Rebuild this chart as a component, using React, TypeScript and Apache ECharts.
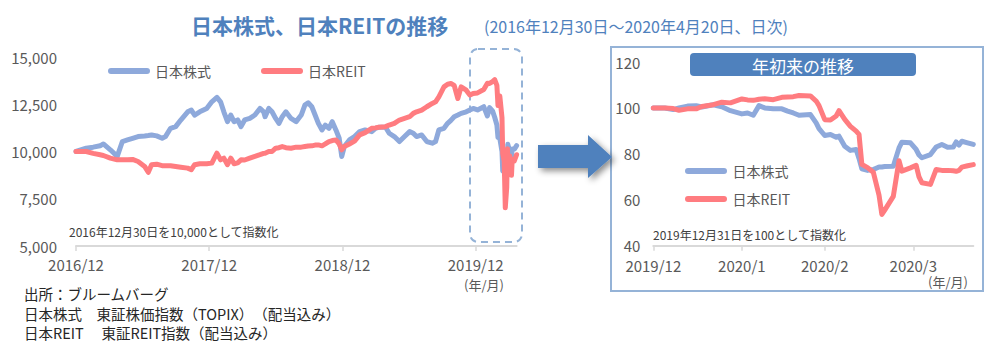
import React, { useEffect, useRef } from 'react';
import * as echarts from 'echarts';

const FONT = '"Noto Sans CJK JP", "Noto Sans", sans-serif';
const BLUE = '#8EA9DB';
const RED = '#FF7C80';
const AXIS_GREY = '#D9D9D9';
const LABEL_GREY = '#595959';

const SERIES_NAMES = ['日本株式', '日本REIT'];

// Long-term chart: days since 2016/12/30
const longDays = [0, 28, 47, 66, 75, 94, 113, 127, 141, 155, 170, 188, 198, 207, 221, 236, 245, 259, 273, 287, 306, 316, 325, 339, 358, 372, 386, 396, 405, 415, 424, 433, 443, 452, 462, 476, 490, 504, 514, 518, 528, 537, 547, 556, 565, 575, 589, 603, 617, 627, 636, 646, 655, 664, 674, 683, 693, 702, 712, 721, 728, 735, 749, 763, 777, 792, 810, 820, 829, 848, 858, 872, 886, 900, 914, 924, 933, 947, 961, 976, 985, 994, 1008, 1018, 1027, 1036, 1046, 1055, 1069, 1079, 1088, 1100, 1117, 1127, 1133, 1141, 1147, 1153, 1156, 1161, 1167, 1169, 1173, 1176, 1180, 1182, 1183, 1188, 1193, 1195, 1201, 1207];
const topixLong = [10000, 10175, 10230, 10300, 10400, 10090, 9740, 10526, 10614, 10700, 10790, 10825, 10850, 10877, 10825, 10700, 10790, 11228, 11315, 11666, 12100, 12190, 11930, 12100, 12280, 12630, 12860, 12630, 12100, 11580, 11930, 11580, 11670, 11315, 11670, 11750, 11930, 12280, 12100, 11840, 12280, 12100, 11750, 11490, 11840, 12100, 11750, 11580, 11930, 12456, 12578, 12368, 11930, 11490, 11140, 11400, 11228, 11580, 11140, 10700, 9740, 10260, 10614, 10790, 11050, 11140, 11050, 11228, 11280, 11280, 10965, 10790, 10526, 10790, 11050, 10965, 10790, 10877, 10526, 10438, 10526, 11140, 11228, 11490, 11650, 11840, 11930, 12017, 12100, 12200, 12280, 12200, 12370, 11880, 12320, 12150, 11810, 11400, 10740, 10700, 9990, 8970, 8930, 9060, 9100, 9900, 10380, 9990, 9720, 10130, 10130, 10310];
const reitLong = [10000, 10000, 9900, 9825, 9790, 9650, 9560, 9560, 9560, 9580, 9470, 9210, 8900, 9300, 9330, 9250, 9250, 9250, 9210, 9170, 9120, 9035, 9300, 9350, 9350, 9386, 9912, 9560, 9650, 9300, 9650, 9350, 9400, 9560, 9550, 9650, 9740, 9830, 9900, 9912, 10000, 10000, 10175, 10200, 10260, 10200, 10175, 10230, 10230, 10260, 10290, 10300, 10340, 10350, 10300, 10400, 10526, 10580, 10614, 10400, 10090, 10260, 10400, 10550, 10877, 11000, 11228, 11250, 11280, 11315, 11400, 11490, 11666, 11750, 11840, 12017, 12100, 12190, 12368, 12543, 12630, 12894, 13420, 13560, 13596, 13500, 12806, 13420, 13245, 12982, 13070, 13100, 13280, 13610, 13600, 13700, 13800, 13500, 12430, 12940, 11780, 9880, 9500, 7020, 8110, 10150, 9500, 9770, 8740, 9590, 9510, 9830];
const longTickDays = [0, 365, 730, 1095];
const longTickLabels = ['2016/12', '2017/12', '2018/12', '2019/12'];

// Year-to-date chart: days since 2019/12/31
const ytdDays = [0, 4, 7, 9, 12, 15, 17, 21, 24, 27, 31, 33, 35, 37, 39, 42, 45, 47, 49, 51, 55, 57, 58, 60, 62, 64, 65, 67, 69, 71, 72, 73, 75, 77, 79, 80, 81, 84, 86, 87, 90, 92, 93, 94, 97, 99, 101, 103, 105, 106, 107, 108, 110, 112];
const topixYtd = [100, 100, 99.3, 100, 100.8, 101, 100.4, 101.4, 100.5, 98.8, 97.4, 97.8, 96.8, 101, 100, 99.6, 99.6, 98.6, 97.8, 96.8, 97.1, 93.5, 91, 88, 88.4, 87.2, 87.7, 83.3, 81.5, 81.9, 78, 73.5, 72.8, 73.2, 74.3, 74.3, 74.5, 74.6, 82.6, 85.1, 84.8, 81.9, 79.5, 78.3, 79.7, 83, 84.1, 82.9, 83, 85.2, 83.8, 85.5, 84.8, 84.1];
const reitYtd = [100, 100, 99.7, 99, 99.6, 99.6, 100.6, 101.4, 102.5, 102.2, 103.9, 103.5, 103.3, 103.8, 104, 103.6, 104.6, 104.8, 104.9, 105.4, 105.2, 103, 101, 94.9, 94.7, 96.5, 98.8, 95, 92, 89.9, 88.5, 75.4, 74, 72, 62, 53.6, 55.5, 61.5, 77, 72.5, 73.9, 75, 70, 67.4, 66.7, 73.2, 72.8, 72.8, 72.6, 72.4, 72.8, 74.2, 74.8, 75.3];
const ytdTickDays = [0, 31, 60, 91];
const ytdTickLabels = ['2019/12', '2020/1', '2020/2', '2020/3'];

const pairs = (xs: number[], ys: number[]) => xs.map((x, i) => [x, ys[i]]);

const legendIcon = 'path://M3 0H39A3 3 0 0 1 39 6H3A3 3 0 0 1 3 0Z';

const lineSeries = (name: string, color: string, data: number[][], axis: number) => ({
  name,
  type: 'line',
  xAxisIndex: axis,
  yAxisIndex: axis,
  data,
  showSymbol: false,
  symbol: 'none',
  color,
  lineStyle: { color, width: 5, cap: 'round', join: 'round' },
});

const txt = (text: string, x: number, y: number, size: number, fill: string, align = 'left', weight = 'normal') => ({
  type: 'text',
  x,
  y,
  style: {
    text,
    fill,
    fontSize: size,
    fontFamily: FONT,
    fontWeight: weight,
    align,
    verticalAlign: 'middle',
  },
});

const option: any = {
  animation: false,
  backgroundColor: '#ffffff',
  textStyle: { fontFamily: FONT },
  title: [
    {
      text: '日本株式、日本REITの推移',
      left: 191,
      top: 13,
      padding: 0,
      textStyle: { fontSize: 21, fontWeight: 'bold', color: '#4F81BD', fontFamily: FONT, lineHeight: 24 },
    },
    {
      text: '(2016年12月30日～2020年4月20日、日次)',
      left: 484,
      top: 16,
      padding: 0,
      textStyle: { fontSize: 16, fontWeight: 'normal', color: '#4F81BD', fontFamily: FONT, lineHeight: 20 },
    },
  ],
  legend: [
    {
      data: SERIES_NAMES,
      orient: 'horizontal',
      left: 108,
      top: 64,
      padding: 0,
      itemWidth: 42,
      itemHeight: 6,
      itemGap: 50,
      icon: legendIcon,
      textStyle: { fontSize: 14, color: LABEL_GREY, fontFamily: FONT },
    },
    {
      data: SERIES_NAMES,
      orient: 'vertical',
      left: 685,
      top: 164,
      padding: 0,
      itemWidth: 43,
      itemHeight: 6,
      itemGap: 14,
      icon: legendIcon,
      textStyle: { fontSize: 14, color: LABEL_GREY, fontFamily: FONT },
    },
  ],
  grid: [
    { left: 76, right: 476.4, top: 57, bottom: 109 },
    { left: 653.3, right: 19.7, top: 62, bottom: 109.3 },
  ],
  xAxis: [
    {
      type: 'value',
      gridIndex: 0,
      min: 0,
      max: 1207,
      splitLine: { show: false },
      axisLine: { show: true, lineStyle: { color: AXIS_GREY, width: 2 } },
      axisTick: { show: true, customValues: longTickDays, length: 5, lineStyle: { color: AXIS_GREY, width: 1.5 } },
      axisLabel: {
        customValues: longTickDays,
        margin: 11,
        fontSize: 15,
        color: LABEL_GREY,
        fontFamily: FONT,
        formatter: (v: number) => {
          const i = longTickDays.indexOf(v);
          return i >= 0 ? longTickLabels[i] : '';
        },
      },
    },
    {
      type: 'value',
      gridIndex: 1,
      min: 0,
      max: 112,
      splitLine: { show: false },
      axisLine: { show: true, lineStyle: { color: AXIS_GREY, width: 2 } },
      axisTick: { show: true, customValues: ytdTickDays, length: 5, lineStyle: { color: AXIS_GREY, width: 1.5 } },
      axisLabel: {
        customValues: ytdTickDays,
        margin: 12,
        fontSize: 15,
        color: LABEL_GREY,
        fontFamily: FONT,
        formatter: (v: number) => {
          const i = ytdTickDays.indexOf(v);
          return i >= 0 ? ytdTickLabels[i] : '';
        },
      },
    },
  ],
  yAxis: [
    {
      type: 'value',
      gridIndex: 0,
      min: 5000,
      max: 15000,
      interval: 2500,
      splitLine: { show: false },
      axisLine: { show: false },
      axisTick: { show: false },
      axisLabel: {
        margin: 19,
        fontSize: 15,
        color: LABEL_GREY,
        fontFamily: FONT,
        formatter: (v: number) => v.toLocaleString('en-US'),
      },
    },
    {
      type: 'value',
      gridIndex: 1,
      min: 40,
      max: 120,
      interval: 20,
      splitLine: { show: false },
      axisLine: { show: false },
      axisTick: { show: false },
      axisLabel: { margin: 13, fontSize: 15, color: LABEL_GREY, fontFamily: FONT },
    },
  ],
  series: [
    lineSeries(SERIES_NAMES[0], BLUE, pairs(longDays, topixLong), 0),
    lineSeries(SERIES_NAMES[1], RED, pairs(longDays, reitLong), 0),
    lineSeries(SERIES_NAMES[0], BLUE, pairs(ytdDays, topixYtd), 1),
    lineSeries(SERIES_NAMES[1], RED, pairs(ytdDays, reitYtd), 1),
  ],
  graphic: [
    // right panel frame
    {
      type: 'rect',
      shape: { x: 611, y: 47, width: 372, height: 244 },
      style: { fill: 'none', stroke: '#95B3D7', lineWidth: 2 },
      z: -1,
    },
    // dashed highlight box
    {
      type: 'rect',
      shape: { x: 470, y: 49, width: 52, height: 193, r: 8 },
      style: { fill: 'none', stroke: '#95B3D7', lineWidth: 2, lineDash: [7, 5] },
    },
    // arrow
    {
      type: 'polygon',
      shape: {
        points: [[538, 145], [588, 145], [588, 135], [612, 157], [588, 178], [588, 168], [538, 168]],
      },
      style: {
        fill: '#4F81BD',
        shadowBlur: 6,
        shadowOffsetX: 3,
        shadowOffsetY: 3,
        shadowColor: 'rgba(0,0,0,0.45)',
      },
    },
    // badge
    {
      type: 'rect',
      shape: { x: 690, y: 53, width: 226, height: 23, r: 4 },
      style: { fill: '#4F81BD' },
    },
    txt('年初来の推移', 803, 65, 17, '#ffffff', 'center'),
    txt('2016年12月30日を10,000として指数化', 69, 231, 12, '#404040'),
    txt('2019年12月31日を100として指数化', 653, 234, 12, '#404040'),
    txt('(年/月)', 484, 284, 13, LABEL_GREY, 'center'),
    txt('(年/月)', 948, 281, 13, LABEL_GREY, 'center'),
    txt('出所：ブルームバーグ', 24, 293, 14.5, '#262626'),
    txt('日本株式　東証株価指数（TOPIX）　（配当込み）', 24, 313, 14.5, '#262626'),
    txt('日本REIT　 東証REIT指数（配当込み）', 24, 332, 14.5, '#262626'),
  ],
};

export default function App() {
  const ref = useRef<HTMLDivElement>(null);
  useEffect(() => {
    if (!ref.current) return;
    const chart = echarts.init(ref.current, null, { renderer: 'svg' });
    chart.setOption(option);
    return () => chart.dispose();
  }, []);
  return (
    <div
      ref={ref}
      style={{ position: 'absolute', left: 0, top: 0, width: 993, height: 355, background: '#ffffff' }}
    />
  );
}
